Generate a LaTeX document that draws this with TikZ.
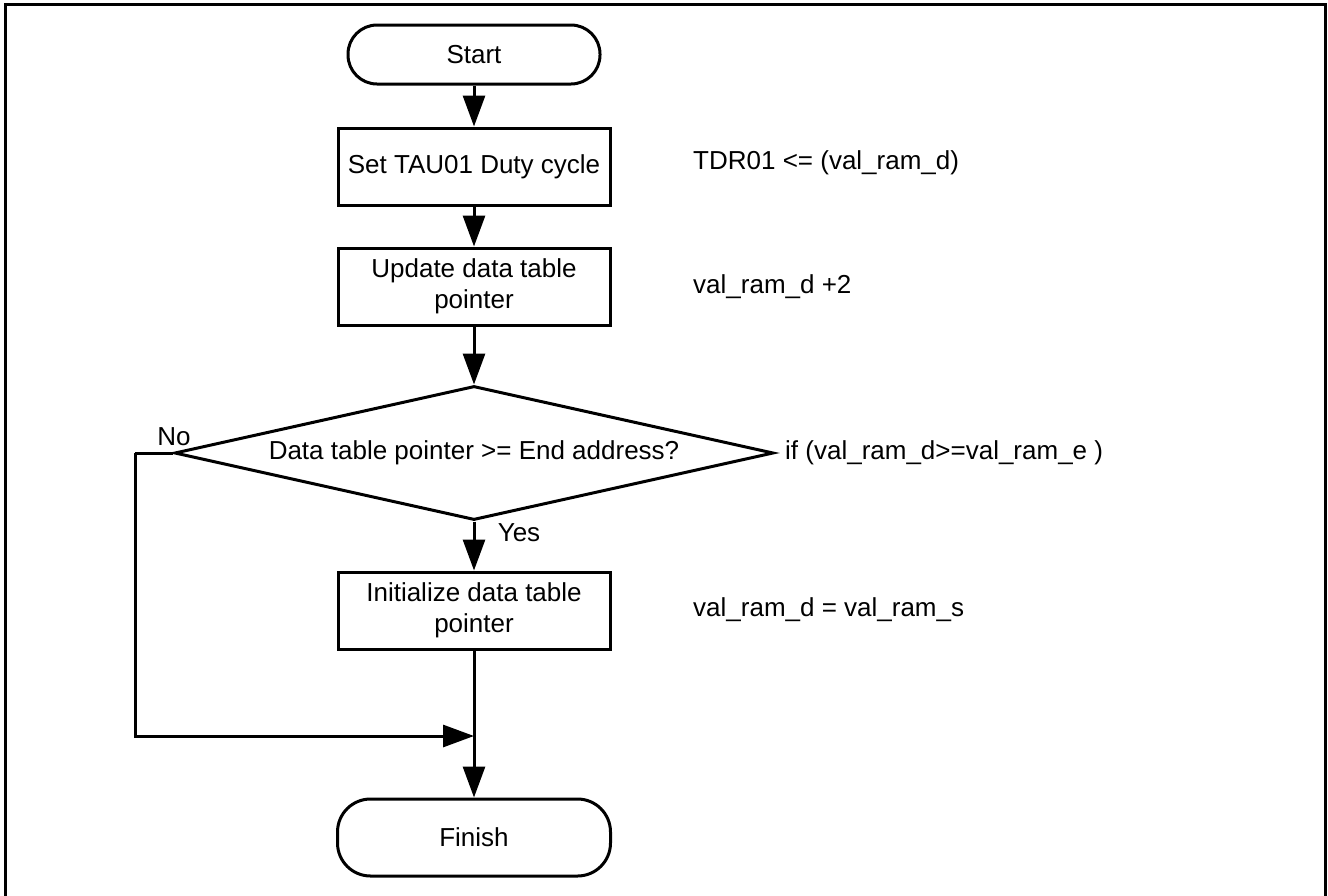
\documentclass[tikz,border=0pt]{standalone}
\usepackage{fontspec}
\setmainfont{Liberation Sans}
\usetikzlibrary{arrows.meta,shapes.geometric}
\tikzset{
  base/.style={font=\fontsize{26}{31}\selectfont, line width=3pt},
  term/.style={base, draw, rectangle, inner sep=0pt, align=center},
  proc/.style={base, draw, rectangle, inner sep=0pt, minimum width=272pt, minimum height=77pt, align=center},
  deci/.style={base, draw, diamond, aspect=4.47, inner sep=0pt, minimum width=599pt, minimum height=134pt},
  note/.style={font=\fontsize{26}{31}\selectfont, inner sep=0pt, anchor=west},
  lbl/.style={font=\fontsize{26}{31}\selectfont, inner sep=0pt},
  flow/.style={line width=3pt, -{Triangle[length=31pt,width=22pt]}},
  wire/.style={line width=3pt}
}
\begin{document}
\begin{tikzpicture}[x=1pt,y=-1pt]
\useasboundingbox (0,0) rectangle (1328,895);
\draw[line width=3pt] (5,900) -- (5,4) -- (1325,4) -- (1325,900);

\node[term, rounded corners=29pt, minimum width=252pt, minimum height=59pt] (start) at (474,54.5) {Start};
\node[proc] (set) at (474,166.5) {Set TAU01 Duty cycle};
\node[proc] (upd) at (474,286.5) {Update data table\\pointer};
\node[deci] (dia) at (474,453) {Data table pointer >= End address?};
\node[proc] (init) at (474,610.5) {Initialize data table\\pointer};
\node[term, rounded corners=33pt, minimum width=273pt, minimum height=77pt] (fin) at (474,837.5) {Finish};

\node[note] (n1) at (693,163) {TDR01 <= (val\_ram\_d)};
\node[note] (n2) at (693,287) {val\_ram\_d +2};
\node[note] (n3) at (785,453) {if (val\_ram\_d>=val\_ram\_e )};
\node[note] (n4) at (693,610) {val\_ram\_d = val\_ram\_s};
\node[lbl] (no) at (174,437) {No};
\node[lbl] (yes) at (519,533) {Yes};

\coordinate (nocorner) at (135,453);
\coordinate (join) at (474,736);

\draw[flow] (start) -- (set);
\draw[flow] (set) -- (upd);
\draw[flow] (upd) -- (dia);
\draw[flow] (dia) -- (init);
\draw[wire] (dia.west) -- (nocorner);
\draw[flow] (nocorner) |- (join);
\draw[flow] (init) -- (fin);
\end{tikzpicture}
\end{document}
